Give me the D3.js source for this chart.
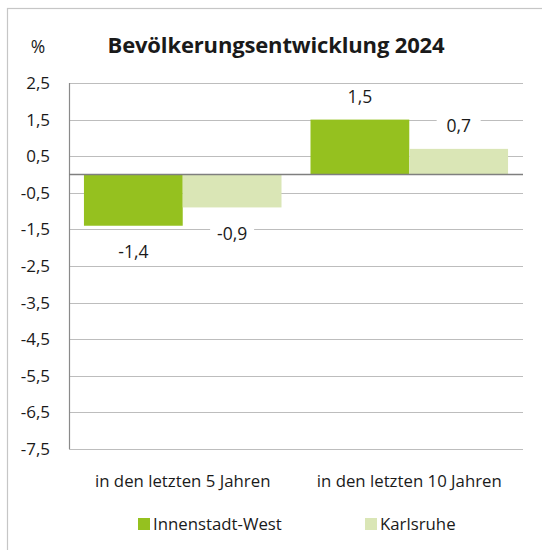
<!DOCTYPE html>
<meta charset="utf-8">
<script src="https://d3js.org/d3.v7.min.js"></script>
<style>
  body { margin: 0; background: #fff; }
  text { font-family: "Open Sans", "Noto Sans", sans-serif; fill: #1a1a1a; }
</style>
<div id="chart"></div>
<script>

// data
const categories = ["in den letzten 5 Jahren", "in den letzten 10 Jahren"];
const seriesNames = ["Innenstadt-West", "Karlsruhe"];
const innenstadtWest = [-1.4, 1.5];
const karlsruhe = [-0.9, 0.7];
const yTicks = [2.5, 1.5, 0.5, -0.5, -1.5, -2.5, -3.5, -4.5, -5.5, -6.5, -7.5];
const colors = ["#95c11f", "#dae6b6"];

const W = 542, H = 550;
const margin = {top: 83, right: 19, bottom: 101, left: 69};

const svg = d3.select("#chart").append("svg")
  .attr("width", W)
  .attr("height", H);

// outer frame (runs off the picture on right and bottom)
svg.append("rect")
  .attr("x", 7.5).attr("y", 8.5)
  .attr("width", 560).attr("height", 580)
  .attr("fill", "none")
  .attr("stroke", "#c6c6c6")
  .attr("stroke-width", 1.2);

const x0 = d3.scaleBand()
  .domain(categories)
  .range([margin.left, W - margin.right])
  .paddingInner(0.128)
  .paddingOuter(0.066);

const x1 = d3.scaleBand()
  .domain(seriesNames)
  .range([0, x0.bandwidth()]);

const y = d3.scaleLinear()
  .domain([-7.5, 2.5])
  .range([H - margin.bottom, margin.top]);

const fmt = v => d3.format(".1f")(v).replace(".", ",").replace("−", "-");

// gridlines
svg.append("g")
  .selectAll("line")
  .data(yTicks)
  .join("line")
    .attr("x1", margin.left)
    .attr("x2", W - margin.right)
    .attr("y1", d => Math.round(y(d)) + 0.5)
    .attr("y2", d => Math.round(y(d)) + 0.5)
    .attr("stroke", "#bdbdbd")
    .attr("stroke-width", 1.2);

// y axis labels
const yAxis = svg.append("g")
  .attr("transform", `translate(${margin.left},0)`)
  .call(d3.axisLeft(y).tickValues(yTicks).tickFormat(fmt).tickSize(0).tickPadding(19));
yAxis.select(".domain").remove();
yAxis.selectAll("text")
  .attr("font-size", 17)
  .attr("font-family", null)
  .attr("fill", "#1a1a1a");

// vertical axis line
svg.append("line")
  .attr("x1", margin.left + 0.5).attr("x2", margin.left + 0.5)
  .attr("y1", y(2.5)).attr("y2", y(-7.5))
  .attr("stroke", "#8a8a8a")
  .attr("stroke-width", 1.2);

// bars
const rows = categories.map((c, i) => ({
  cat: c,
  vals: [
    {name: seriesNames[0], v: innenstadtWest[i]},
    {name: seriesNames[1], v: karlsruhe[i]}
  ]
}));

const groups = svg.append("g")
  .selectAll("g")
  .data(rows)
  .join("g")
    .attr("transform", d => `translate(${x0(d.cat)},0)`);

groups.selectAll("rect")
  .data(d => d.vals)
  .join("rect")
    .attr("x", d => x1(d.name))
    .attr("width", x1.bandwidth())
    .attr("y", d => y(Math.max(0, d.v)))
    .attr("height", d => Math.abs(y(d.v) - y(0)))
    .attr("fill", (d, i) => colors[i]);

// zero line
svg.append("line")
  .attr("x1", margin.left).attr("x2", W - margin.right)
  .attr("y1", y(0)).attr("y2", y(0))
  .attr("stroke", "#7f7f7f")
  .attr("stroke-width", 1.3);

// value labels with white boxes
const lab = groups.selectAll("g.lab")
  .data(d => d.vals)
  .join("g")
    .attr("class", "lab")
    .attr("transform", d => {
      const cx = x1(d.name) + x1.bandwidth() / 2;
      const cy = d.v >= 0 ? y(d.v) - 23 : y(d.v) + 26;
      return `translate(${cx},${cy})`;
    });
lab.append("rect")
  .attr("x", -22).attr("y", -12)
  .attr("width", 44).attr("height", 24)
  .attr("fill", "#fff");
lab.append("text")
  .attr("text-anchor", "middle")
  .attr("dy", "0.36em")
  .attr("font-size", 17.5)
  .text(d => fmt(d.v));

// category labels
svg.append("g")
  .selectAll("text")
  .data(categories)
  .join("text")
    .attr("x", d => x0(d) + x0.bandwidth() / 2)
    .attr("y", 481)
    .attr("dy", "0.36em")
    .attr("text-anchor", "middle")
    .attr("font-size", 16.8)
    .text(d => d);

// title and unit
svg.append("text")
  .attr("x", 276).attr("y", 53)
  .attr("text-anchor", "middle")
  .attr("font-size", 22)
  .attr("font-weight", "bold")
  .attr("letter-spacing", -0.15)
  .text("Bevölkerungsentwicklung 2024");

svg.append("text")
  .attr("x", 38).attr("y", 53)
  .attr("text-anchor", "middle")
  .attr("font-size", 17.5)
  .text("%");

// legend
const legendX = [138, 365];
const leg = svg.append("g")
  .selectAll("g")
  .data(seriesNames)
  .join("g")
    .attr("transform", (d, i) => `translate(${legendX[i]},524)`);
leg.append("rect")
  .attr("x", 0).attr("y", -6)
  .attr("width", 12).attr("height", 12)
  .attr("fill", (d, i) => colors[i]);
leg.append("text")
  .attr("x", 15)
  .attr("dy", "0.36em")
  .attr("font-size", 16.8)
  .text(d => d);
</script>
